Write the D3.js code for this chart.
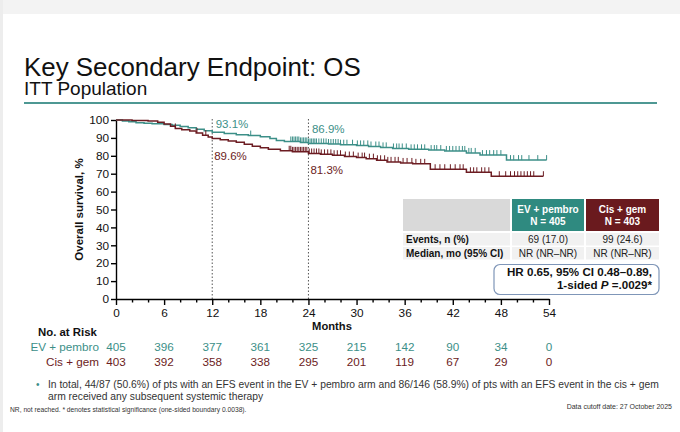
<!DOCTYPE html>
<html><head><meta charset="utf-8">
<script src="https://cdn.jsdelivr.net/npm/d3@7"></script>
<style>
body{margin:0;background:#fff;}
svg{display:block;font-family:"Liberation Sans",Arial,Helvetica,sans-serif;}
</style>
</head><body>
<svg id="chart" width="680" height="432"></svg>
<script>
// ---------------- DATA ----------------
const monthTicks = [0, 6, 12, 18, 24, 30, 36, 42, 48, 54];
const minorTicks = [2, 4, 8, 10, 14, 16, 20, 22, 26, 28, 32, 34, 38, 40, 44, 46, 50, 52];
const yTicks = [0, 10, 20, 30, 40, 50, 60, 70, 80, 90, 100];

const evTime = [0, 0.8, 1.6, 2.5, 3.5, 4.5, 6, 7, 8, 9, 10, 11, 12, 13.5, 15, 16.5, 18, 19.2, 20, 21, 23, 24, 26.5, 28, 30, 31.5, 33, 34.5, 36.5, 39, 41, 43.7, 45.4, 48.7, 53.7];
const evSurv = [100, 99.5, 99.0, 98.5, 98.2, 97.9, 97.5, 97.0, 96.4, 95.7, 94.9, 94.0, 93.1, 92.5, 91.8, 91.3, 90.6, 89.6, 88.6, 88.0, 87.5, 86.9, 86.6, 86.2, 85.8, 85.2, 84.7, 84.1, 83.6, 83.2, 82.7, 81.6, 80.4, 77.6, 77.6];

const cisTime = [0, 2, 4, 5.2, 6, 6.8, 7.4, 8.2, 9.2, 10, 10.8, 11.5, 12, 13, 14, 15, 16, 17, 18, 19, 20.5, 22, 24, 25.5, 27, 28.5, 30, 31.2, 32.5, 33.8, 35.5, 37, 39.2, 43.7, 46.8, 53.3];
const cisSurv = [100, 99.7, 99.4, 98.8, 97.8, 96.5, 95.3, 94.5, 93.8, 92.8, 91.5, 90.5, 89.6, 89.0, 88.3, 87.6, 86.5, 85.4, 84.5, 83.6, 82.8, 82.2, 81.3, 80.8, 80.3, 79.6, 79.0, 78.4, 77.5, 76.6, 76.0, 75.5, 72.5, 70.8, 68.6, 68.6];

const evCensor = [16.8, 21.8, 22.0, 22.2, 22.4, 22.6, 22.8, 23.0, 23.2, 23.4, 23.6, 23.8, 24.0, 24.2, 24.4, 24.6, 24.8, 25.0, 25.3, 25.6, 25.9, 26.2, 26.5, 26.8, 27.1, 27.4, 27.7, 28.0, 28.4, 28.8, 29.5, 30.1, 30.5, 30.9, 31.4, 31.8, 32.4, 32.8, 33.3, 33.7, 34.6, 35.0, 35.3, 35.7, 36.2, 36.8, 37.2, 37.6, 38.1, 38.5, 39.3, 39.7, 40.0, 40.5, 41.2, 41.6, 42.0, 42.4, 42.8, 43.2, 43.5, 44.0, 44.3, 44.8, 45.7, 46.2, 46.6, 47.1, 47.5, 48.0, 49.2, 49.6, 50.2, 50.6, 51.5, 52.6, 53.7];
const cisCensor = [7.4, 10.1, 11.2, 21.6, 21.8, 22.0, 22.2, 22.4, 22.6, 22.8, 23.0, 23.2, 23.4, 23.6, 23.8, 24.1, 24.4, 24.7, 25.0, 25.3, 25.6, 26.0, 26.4, 26.8, 27.2, 27.6, 28.0, 28.6, 29.1, 29.6, 30.2, 30.7, 31.0, 31.6, 32.1, 32.6, 33.0, 33.5, 33.9, 34.3, 34.8, 35.2, 35.8, 36.3, 36.9, 37.4, 38.0, 38.5, 39.8, 40.4, 41.0, 41.7, 42.3, 42.9, 43.3, 44.2, 44.6, 45.0, 45.6, 46.0, 46.5, 47.8, 48.6, 49.2, 49.7, 50.1, 50.5, 50.9, 51.3, 51.7, 52.1, 53.3];

const landmarkMonths = [12, 24];
const evLandmark = [93.1, 86.9];
const cisLandmark = [89.6, 81.3];

const arms = ["EV + pembro", "Cis + gem"];
const armN = ["N = 405", "N = 403"];
const evAtRisk = [405, 396, 377, 361, 325, 215, 142, 90, 34, 0];
const cisAtRisk = [403, 392, 358, 338, 295, 201, 119, 67, 29, 0];

const rowLabels = ["Events, n (%)", "Median, mo (95% CI)"];
const evTable = ["69 (17.0)", "NR (NR\u2013NR)"];
const cisTable = ["99 (24.6)", "NR (NR\u2013NR)"];

const titleText = "Key Secondary Endpoint: OS";
const subtitleText = "ITT Population";
const footBullet = ["In total, 44/87 (50.6%) of pts with an EFS event in the EV + pembro arm and 86/146 (58.9%) of pts with an EFS event in the cis + gem",
                    "arm received any subsequent systemic therapy"];
const footNote = "NR, not reached. * denotes statistical significance (one-sided boundary 0.0038).";
const cutoff = "Data cutoff date: 27 October 2025";

// ---------------- STYLE ----------------
const TEAL = "#3c8f88";
const MAROON = "#6c1c22";
const TEAL_HDR = "#2f8a80";
const MAROON_HDR = "#6a1a1e";

const svg = d3.select("#chart");

// subtle slide frame
svg.append("rect").attr("x",0).attr("y",0).attr("width",680).attr("height",14).attr("fill","#f3f3f3");
svg.append("rect").attr("x",0).attr("y",0).attr("width",3).attr("height",432).attr("fill","#ededed");

// titles
svg.append("text").attr("x",24).attr("y",75.5).attr("font-size",25.9).attr("fill","#111").text(titleText);
svg.append("text").attr("x",24).attr("y",94.8).attr("font-size",19).attr("fill","#111").text(subtitleText);
svg.append("line").attr("x1",24).attr("x2",657).attr("y1",103).attr("y2",103)
  .attr("stroke","#4e9893").attr("stroke-width",2);

// scales
const x = d3.scaleLinear().domain([0,54]).range([116,549]);
const y = d3.scaleLinear().domain([0,100]).range([299,120]);

// landmark dashed lines
svg.selectAll(".lm").data(landmarkMonths).join("line")
  .attr("x1",d=>x(d)).attr("x2",d=>x(d)).attr("y1",y(0)).attr("y2",y(100)-2)
  .attr("stroke","#555").attr("stroke-width",1).attr("stroke-dasharray","1.5,2");

// axes
const xAxis = svg.append("g").attr("transform",`translate(0,${y(0)})`)
  .call(d3.axisBottom(x).tickValues(monthTicks).tickSize(6).tickSizeOuter(0).tickPadding(4));
const xMinor = svg.append("g").attr("transform",`translate(0,${y(0)})`)
  .call(d3.axisBottom(x).tickValues(minorTicks).tickSize(3.5).tickSizeOuter(0).tickFormat(""));
xMinor.select(".domain").remove();
const yAxis = svg.append("g").attr("transform",`translate(${x(0)},0)`)
  .call(d3.axisLeft(y).tickValues(yTicks).tickSize(5).tickSizeOuter(0).tickPadding(2));
[xAxis,xMinor,yAxis].forEach(g=>{
  g.selectAll("path,line").attr("stroke","#000").attr("stroke-width",1.4);
  g.selectAll("text").attr("font-size",11.8).attr("fill","#111").attr("font-family","Liberation Sans, Arial, sans-serif");
});

svg.append("text").attr("x",332).attr("y",330).attr("text-anchor","middle")
  .attr("font-size",11.2).attr("font-weight","bold").attr("fill","#111").text("Months");
svg.append("text").attr("transform",`translate(83,${(y(0)+y(100))/2+0}) rotate(-90)`).attr("text-anchor","middle")
  .attr("font-size",11.5).attr("font-weight","bold").attr("fill","#111").text("Overall survival, %");

// KM curves
function stepAt(times, surv, t){
  let v = surv[0];
  for(let i=0;i<times.length;i++){ if(times[i] <= t) v = surv[i]; }
  return v;
}
const lineGen = d3.line().x(d=>x(d[0])).y(d=>y(d[1])).curve(d3.curveStepAfter);
function drawArm(times, surv, censor, color){
  const pts = times.map((t,i)=>[t, surv[i]]);
  svg.append("path").attr("d", lineGen(pts)).attr("fill","none")
    .attr("stroke",color).attr("stroke-width",1.5);
  svg.append("g").selectAll("line").data(censor).join("line")
    .attr("x1",d=>x(d)).attr("x2",d=>x(d))
    .attr("y1",d=>y(stepAt(times,surv,d))).attr("y2",d=>y(stepAt(times,surv,d))-5)
    .attr("stroke",color).attr("stroke-width",1);
}
drawArm(evTime, evSurv, evCensor, TEAL);
drawArm(cisTime, cisSurv, cisCensor, MAROON);

// landmark labels
const evDy = [-4, -10.5];
const cisDy = [21.5, 20.5];
landmarkMonths.forEach((m,i)=>{
  svg.append("text").attr("x",x(m)+3.5).attr("y",y(evLandmark[i])+evDy[i])
    .attr("font-size",11.5).attr("fill",TEAL).text(evLandmark[i].toFixed(1)+"%");
  svg.append("text").attr("x",x(m)+2).attr("y",y(cisLandmark[i])+cisDy[i])
    .attr("font-size",11.5).attr("fill",MAROON).text(cisLandmark[i].toFixed(1)+"%");
});

// table
const colX = [403, 512, 586];
const colW = [107, 72, 73];
const hdrY = 199, hdrH = 32, rowY = [233, 247], rowH = 12.5;
svg.append("rect").attr("x",colX[0]).attr("y",hdrY).attr("width",colW[0]).attr("height",hdrH).attr("fill","#d9d9d9");
[TEAL_HDR, MAROON_HDR].forEach((c,i)=>{
  svg.append("rect").attr("x",colX[i+1]).attr("y",hdrY).attr("width",colW[i+1]).attr("height",hdrH).attr("fill",c);
  const cx = colX[i+1]+colW[i+1]/2;
  svg.append("text").attr("x",cx).attr("y",hdrY+13.5).attr("text-anchor","middle").attr("font-size",10)
    .attr("font-weight","bold").attr("fill","#fff").text(arms[i]);
  svg.append("text").attr("x",cx).attr("y",hdrY+25.5).attr("text-anchor","middle").attr("font-size",10)
    .attr("font-weight","bold").attr("fill","#fff").text(armN[i]);
});
rowLabels.forEach((lab,r)=>{
  [0,1,2].forEach(c=>{
    svg.append("rect").attr("x",colX[c]).attr("y",rowY[r]).attr("width",colW[c]).attr("height",rowH).attr("fill","#f1f1f1");
  });
  svg.append("text").attr("x",colX[0]+3).attr("y",rowY[r]+10).attr("font-size",10).attr("font-weight","bold")
    .attr("fill","#111").text(lab);
  svg.append("text").attr("x",colX[1]+colW[1]/2).attr("y",rowY[r]+10).attr("text-anchor","middle").attr("font-size",10)
    .attr("fill","#222").text(evTable[r]);
  svg.append("text").attr("x",colX[2]+colW[2]/2).attr("y",rowY[r]+10).attr("text-anchor","middle").attr("font-size",10)
    .attr("fill","#222").text(cisTable[r]);
});

// HR box
svg.append("rect").attr("x",494).attr("y",264.5).attr("width",165).attr("height",30).attr("rx",6)
  .attr("fill","#fff").attr("stroke","#7f96b8").attr("stroke-width",1.2);
svg.append("text").attr("x",652).attr("y",276).attr("text-anchor","end").attr("font-size",11.6)
  .attr("font-weight","bold").attr("fill","#111").text("HR 0.65, 95% CI 0.48\u20130.89,");
const hr2 = svg.append("text").attr("x",652).attr("y",288.5).attr("text-anchor","end").attr("font-size",11.6)
  .attr("font-weight","bold").attr("fill","#111");
hr2.append("tspan").text("1-sided ");
hr2.append("tspan").attr("font-style","italic").text("P");
hr2.append("tspan").text(" =.0029*");

// number at risk
svg.append("text").attr("x",38).attr("y",336).attr("font-size",11.4).attr("font-weight","bold").attr("fill","#111").text("No. at Risk");
[[evAtRisk, TEAL, 351], [cisAtRisk, MAROON, 365.5]].forEach(([vals,col,yy],i)=>{
  svg.append("text").attr("x",99).attr("y",yy).attr("text-anchor","end").attr("font-size",11.7)
    .attr("fill",col).text(arms[i]);
  svg.append("g").selectAll("text").data(vals).join("text")
    .attr("x",(d,j)=>x(monthTicks[j])).attr("y",yy).attr("text-anchor","middle")
    .attr("font-size",11.7).attr("fill",col).text(d=>d);
});

// footnotes
svg.append("text").attr("x",36).attr("y",387.5).attr("font-size",10).attr("fill",TEAL).text("\u2022");
footBullet.forEach((t,i)=>{
  svg.append("text").attr("x",48).attr("y",387.5+i*12.6).attr("font-size",10.3).attr("fill","#333").text(t);
});
svg.append("text").attr("x",10).attr("y",411.5).attr("font-size",6.7).attr("fill","#333").text(footNote);
svg.append("text").attr("x",672).attr("y",408.5).attr("text-anchor","end").attr("font-size",7).attr("fill","#333").text(cutoff);
</script>
</body></html>
